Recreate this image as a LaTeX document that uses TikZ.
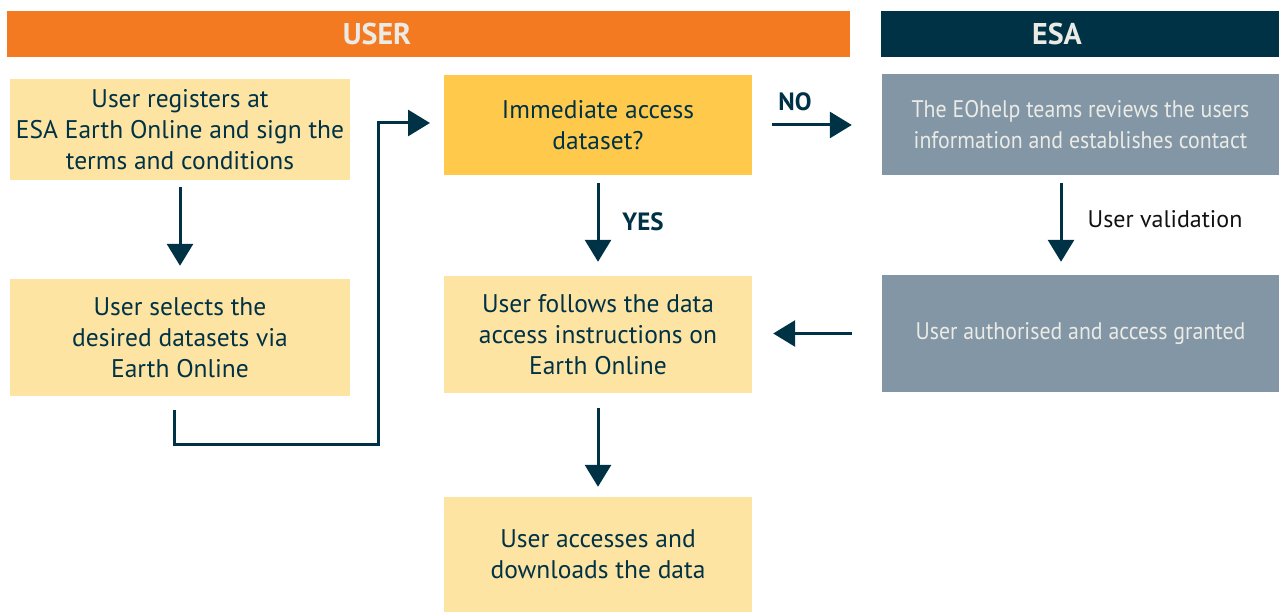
\documentclass[tikz,border=0pt]{standalone}
\usepackage{fontspec}
\setmainfont{PT Sans}
\newfontfamily\esafont{PT Sans}[FakeStretch=0.91]
\usetikzlibrary{arrows.meta}
\definecolor{esaorange}{HTML}{F47A22}
\definecolor{esanavy}{HTML}{003246}
\definecolor{boxlight}{HTML}{FEE4A3}
\definecolor{boxyellow}{HTML}{FFCA4B}
\definecolor{boxgray}{HTML}{8396A5}
\definecolor{txtlight}{HTML}{EBEBE6}
\definecolor{lbltext}{HTML}{111111}
\begin{document}
\begin{tikzpicture}[x=1pt,y=-1pt,
  band/.style={fill=#1, inner sep=0pt},
  bandtext/.style={text=txtlight, inner sep=0pt, font=\fontsize{30}{32}\selectfont\bfseries},
  stepbox/.style={fill=#1, inner sep=0pt, align=center, text=esanavy, font=\fontsize{25.5}{31}\selectfont},
  esabox/.style={fill=boxgray, inner sep=0pt, align=center, text=txtlight, font=\esafont\fontsize{24}{31}\selectfont},
  arr/.style={draw=esanavy, line width=3pt, -{Triangle[width=26pt,length=22pt]}},
  lbl/.style={text=lbltext, font=\fontsize{24}{28}\selectfont},
  blbl/.style={text=esanavy, font=\fontsize{25}{28}\selectfont\bfseries}]
\useasboundingbox (0,0) rectangle (1279,612);
% bands
\node[band=esaorange, minimum width=843pt, minimum height=46pt] (user) at (428.5,34) {};
\node[bandtext] (usert) at (377,34) {USER};
\node[band=esanavy, minimum width=398pt, minimum height=46pt] (esa) at (1080,34) {};
\node[bandtext] (esat) at (1057,34) {ESA};
% boxes
\node[stepbox=boxlight, minimum width=340pt, minimum height=101pt] (b1) at (180,129.5)
  {User registers at\\ESA Earth Online and sign the\\terms and conditions};
\node[stepbox=boxyellow, minimum width=308pt, minimum height=100pt] (b2) at (598,125)
  {Immediate access\\dataset?};
\node[esabox, minimum width=397pt, minimum height=101pt] (b3) at (1080.5,124.5)
  {The EOhelp teams reviews the users\\information and establishes contact};
\node[stepbox=boxlight, minimum width=340pt, minimum height=117pt] (b4) at (180,337.5)
  {User selects the\\desired datasets via\\Earth Online};
\node[stepbox=boxlight, minimum width=308pt, minimum height=117pt] (b5) at (598,334.5)
  {User follows the data\\access instructions on\\Earth Online};
\node[esabox, minimum width=397pt, minimum height=117pt] (b6) at (1080.5,333.5)
  {User authorised and access granted};
\node[stepbox=boxlight, minimum width=308pt, minimum height=115pt] (b7) at (598,554.5)
  {User accesses and\\downloads the data};
% connectors
\draw[arr, shorten <=7pt, shorten >=13pt] (b1.south) -- (b4.north);
\coordinate (e1) at (174,444);
\coordinate (e2) at (378,123);
\coordinate (e3) at (430,123);
\draw[arr] ([xshift=-6pt,yshift=-14pt]b4.south) -- (e1) -| (e2) -- (e3);
\draw[arr, shorten <=20pt, shorten >=30pt] (b2.east) -- (b2.east -| b3.west);
\draw[arr, shorten <=8pt, shorten >=14pt] (b2.south) -- (b5.north);
\draw[arr, shorten <=8pt, shorten >=13pt] ([xshift=-19.5pt]b3.south) -- ([xshift=-19.5pt]b6.north);
\draw[arr, shorten <=30pt, shorten >=21pt] (b6.west) -- (b6.west -| b5.east);
\draw[arr, shorten <=15pt, shorten >=10pt] (b5.south) -- (b7.north);
% labels
\node[blbl] (no) at (795,102) {NO};
\node[blbl] (yes) at (643,222) {YES};
\node[lbl] (uv) at (1165,219) {User validation};
\end{tikzpicture}
\end{document}
